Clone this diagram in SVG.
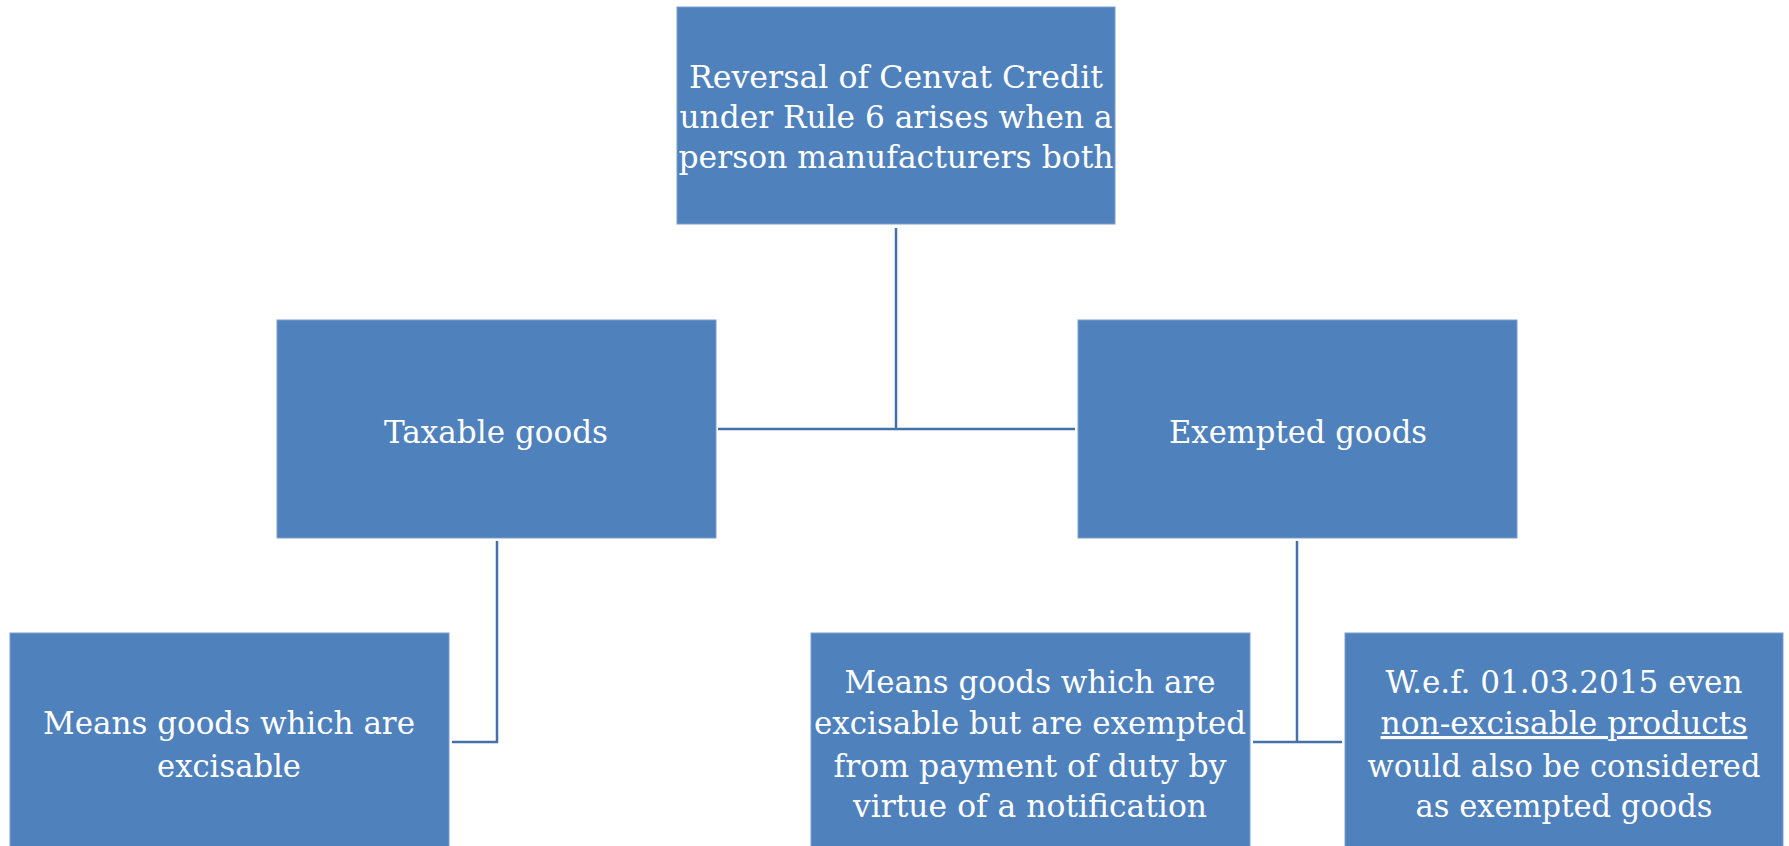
<svg xmlns="http://www.w3.org/2000/svg" width="1789" height="846" viewBox="0 0 1789 846">
<style>
.box{fill:#4f81bd;stroke:#7a9fcf;stroke-width:1}
.t{font-family:"DejaVu Serif","Liberation Serif",serif;font-size:31px;fill:#ffffff;text-anchor:middle}
.c{fill:none;stroke:#4471aa;stroke-width:2.5}
</style>
<rect width="1789" height="846" fill="#ffffff"/>
<g id="connectors">
<path class="c" d="M896 228 V429 M718 429 H1075"/>
<path class="c" d="M497 541 V742 H452"/>
<path class="c" d="M1297 541 V742 M1253 742 H1342"/>
</g>
<g id="root">
<rect class="box" x="677" y="7" width="438" height="217"/>
<text class="t" x="896" y="88" textLength="414" lengthAdjust="spacingAndGlyphs">Reversal of Cenvat Credit</text>
<text class="t" x="896" y="128" textLength="433" lengthAdjust="spacingAndGlyphs">under Rule 6 arises when a</text>
<text class="t" x="896" y="168" textLength="435" lengthAdjust="spacingAndGlyphs">person manufacturers both</text>
</g>
<g id="taxable">
<rect class="box" x="277" y="320" width="439" height="218"/>
<text class="t" x="496" y="443" textLength="224" lengthAdjust="spacingAndGlyphs">Taxable goods</text>
</g>
<g id="exempted">
<rect class="box" x="1078" y="320" width="439" height="218"/>
<text class="t" x="1298" y="443" textLength="258" lengthAdjust="spacingAndGlyphs">Exempted goods</text>
</g>
<g id="taxable-def">
<rect class="box" x="10" y="633" width="439" height="220"/>
<text class="t" x="229" y="734" textLength="372" lengthAdjust="spacingAndGlyphs">Means goods which are</text>
<text class="t" x="229" y="777" textLength="144" lengthAdjust="spacingAndGlyphs">excisable</text>
</g>
<g id="exempted-def">
<rect class="box" x="811" y="633" width="439" height="220"/>
<text class="t" x="1030" y="693" textLength="371" lengthAdjust="spacingAndGlyphs">Means goods which are</text>
<text class="t" x="1030" y="734" textLength="432" lengthAdjust="spacingAndGlyphs">excisable but are exempted</text>
<text class="t" x="1030" y="777" textLength="393" lengthAdjust="spacingAndGlyphs">from payment of duty by</text>
<text class="t" x="1030" y="817" textLength="354" lengthAdjust="spacingAndGlyphs">virtue of a notification</text>
</g>
<g id="non-excisable">
<rect class="box" x="1345" y="633" width="438" height="220"/>
<text class="t" x="1564" y="693" textLength="357" lengthAdjust="spacingAndGlyphs">W.e.f. 01.03.2015 even</text>
<text class="t" x="1564" y="734" textLength="367" lengthAdjust="spacingAndGlyphs" text-decoration="underline">non-excisable products</text>
<text class="t" x="1564" y="777" textLength="393" lengthAdjust="spacingAndGlyphs">would also be considered</text>
<text class="t" x="1564" y="817" textLength="297" lengthAdjust="spacingAndGlyphs">as exempted goods</text>
</g>
</svg>
